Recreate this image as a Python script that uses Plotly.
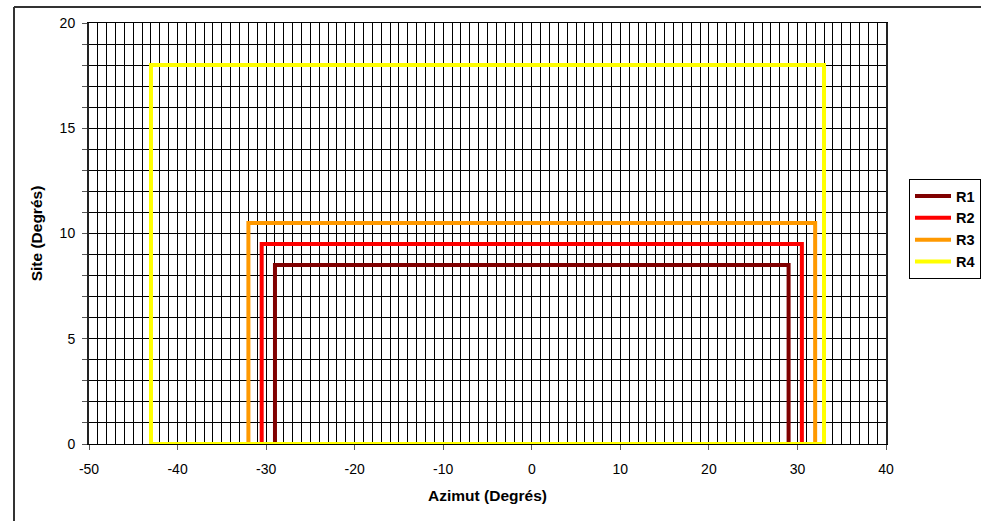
import plotly.graph_objects as go

series_names = ["R1", "R2", "R3", "R4"]
azimut_left = [-29, -30.5, -32, -43]
azimut_right = [29, 30.5, 32, 33]
site_top = [8.5, 9.5, 10.5, 18]
colors = ["#800000", "#FF0000", "#FF9900", "#FFFF00"]

x_tick_vals = [-50, -40, -30, -20, -10, 0, 10, 20, 30, 40]
x_tick_text = ["-50", "-40", "-30", "-20", "-10", "0", "10", "20", "30", "40"]
y_tick_vals = [0, 5, 10, 15, 20]
y_tick_text = ["0", "5", "10", "15", "20"]

fig = go.Figure()
for name, xl, xr, top, c in zip(series_names, azimut_left, azimut_right, site_top, colors):
    fig.add_trace(go.Scatter(
        x=[xl, xl, xr, xr, xl],
        y=[0, top, top, 0, 0],
        mode="lines",
        name=name,
        line=dict(color=c, width=4),
    ))

font = "Liberation Sans, Arial, sans-serif"
fig.update_layout(
    width=981, height=521,
    margin=dict(l=89, r=95, t=23, b=77),
    plot_bgcolor="white", paper_bgcolor="white",
    font=dict(family=font, size=14, color="black"),
    showlegend=True,
    legend=dict(
        xref="container", yref="container",
        x=909 / 981, y=1 - 179 / 521, xanchor="left", yanchor="top",
        bordercolor="black", borderwidth=1,
        font=dict(family=font, size=14.5, color="black", weight="bold"),
        itemwidth=36, tracegroupgap=0,
        bgcolor="white",
    ),
    xaxis=dict(
        range=[-50, 40], tickvals=x_tick_vals, ticktext=x_tick_text,
        showgrid=True, gridcolor="black", gridwidth=1,
        minor=dict(dtick=1, showgrid=True, gridcolor="black", gridwidth=1, ticks=""),
        ticks="outside", ticklen=5, tickcolor="#555",
        ticklabelstandoff=7,
        showline=True, linecolor="black", linewidth=1, mirror=True,
        zeroline=False,
        title=dict(text="<b>Azimut (Degrés)</b>", font=dict(size=15.5), standoff=14),
        tickfont=dict(size=14),
    ),
    yaxis=dict(
        range=[0, 20], tickvals=y_tick_vals, ticktext=y_tick_text,
        showgrid=True, gridcolor="black", gridwidth=1,
        minor=dict(dtick=1, showgrid=True, gridcolor="black", gridwidth=1,
                   ticks="outside", ticklen=5, tickcolor="#555"),
        ticks="outside", ticklen=5, tickcolor="#555",
        ticklabelstandoff=4,
        showline=True, linecolor="#222", linewidth=2, mirror=True,
        zeroline=False,
        title=dict(text="<b>Site (Degrés)</b>", font=dict(size=15.5), standoff=13),
        tickfont=dict(size=14),
    ),
)

# outer chart frame (cropped at right/bottom in the reference)
fig.add_shape(type="line", xref="paper", yref="paper",
              x0=-0.0941, x1=-0.0941, y0=-0.3, y1=1.038,
              line=dict(color="#333", width=2))
fig.add_shape(type="line", xref="paper", yref="paper",
              x0=-0.0941, x1=1.2, y0=1.038, y1=1.038,
              line=dict(color="#333", width=2))

fig.write_html(
    "out.html",
    config={"displayModeBar": False},
    post_script="document.body.style.margin='0';document.body.style.overflow='hidden';",
)
